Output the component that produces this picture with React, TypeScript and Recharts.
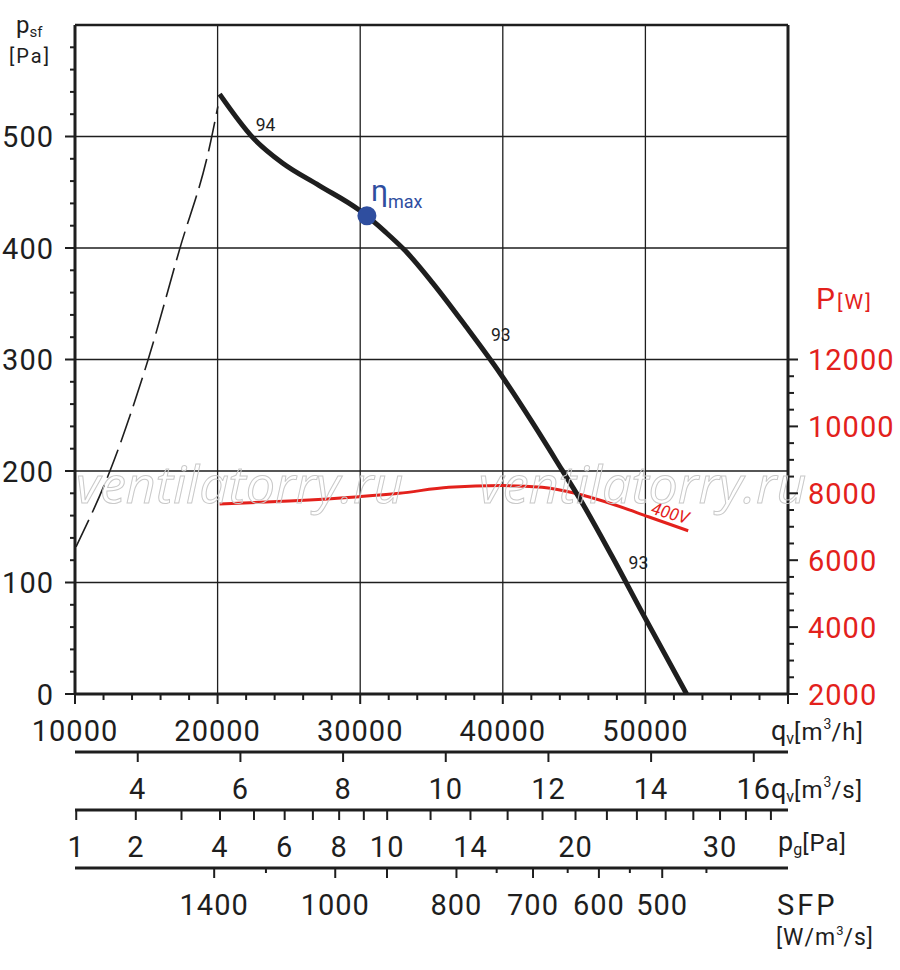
import { CartesianGrid, ComposedChart, Line, ReferenceDot, ReferenceLine, XAxis, YAxis } from 'recharts'

const FONT = 'Roboto, "DejaVu Sans", sans-serif'
const INK = '#1e1e1e'
const RED = '#e3211c'
const BLUE = '#2f4e9f'

// fan curve, p_sf [Pa] over q_v [m3/h]
const pressureCurve = [
  { q: 20140, p: 538 },
  { q: 22470, p: 499 },
  { q: 24570, p: 476 },
  { q: 27130, p: 456 },
  { q: 29930, p: 434 },
  { q: 31800, p: 414 },
  { q: 33200, p: 397 },
  { q: 35060, p: 369 },
  { q: 37390, p: 330 },
  { q: 39840, p: 287 },
  { q: 42050, p: 244 },
  { q: 44150, p: 201 },
  { q: 45310, p: 177 },
  { q: 47640, p: 124 },
  { q: 49860, p: 71 },
  { q: 52890, p: 0 },
]

// dashed system curve on the left
const systemCurve = [
  { q: 10070, p: 132 },
  { q: 12450, p: 200 },
  { q: 15130, p: 300 },
  { q: 17340, p: 399 },
  { q: 19440, p: 491 },
  { q: 20020, p: 527 },
]

// input power, P [W]
const powerCurve = [
  { q: 20140, w: 7680 },
  { q: 25030, w: 7770 },
  { q: 29930, w: 7900 },
  { q: 32730, w: 8000 },
  { q: 36220, w: 8180 },
  { q: 39950, w: 8230 },
  { q: 42750, w: 8180 },
  { q: 45080, w: 8000 },
  { q: 47880, w: 7650 },
  { q: 50210, w: 7300 },
  { q: 53000, w: 6880 },
]

const etaMax = { q: 30470, p: 429 }
const efficiencyLabels = [
  { q: 23360, p: 511, text: '94' },
  { q: 39860, p: 322, text: '93' },
  { q: 49510, p: 118, text: '93' },
]
const voltageLabel = { q: 51750, w: 7410, text: '400V' }
const watermarks = [
  { q: 10070, p: 171 },
  { q: 38320, p: 171 },
]

const flowTicks = [
  10000, 12000, 14000, 16000, 18000, 20000, 22000, 24000, 26000, 28000, 30000, 32000, 34000,
  36000, 38000, 40000, 42000, 44000, 46000, 48000, 50000, 52000, 54000, 56000, 58000, 60000,
]
const flowLabels = [10000, 20000, 30000, 40000, 50000]
const flowSecTicks = [4, 6, 8, 10, 12, 14, 16]
const pgTicks = [1, 2, 3, 4, 5, 6, 7, 8, 9, 10, 12, 14, 16, 18, 20, 22, 24, 26, 28, 30, 32, 34]
const pgLabels = [1, 2, 4, 6, 8, 10, 14, 20, 30]
// SFP scale: flow position [m3/h] of each SFP tick
const sfpFlow = [19760, 23390, 28250, 31880, 36750, 39570, 42120, 44550, 46740, 48910, 51180, 54280]
const sfpValue = [1400, 1200, 1000, 900, 800, 750, 700, 650, 600, 550, 500, 450]
const sfpLabels = [1400, 1000, 800, 700, 600, 500]
const sfpLong = [1400, 1000, 900, 800, 700, 600, 500]

const psfTicks = [
  0, 20, 40, 60, 80, 100, 120, 140, 160, 180, 200, 220, 240, 260, 280, 300, 320, 340, 360, 380,
  400, 420, 440, 460, 480, 500, 520, 540, 560, 580,
]
const psfLabels = [0, 100, 200, 300, 400, 500]
const powerTicks = [
  2000, 2500, 3000, 3500, 4000, 4500, 5000, 5500, 6000, 6500, 7000, 7500, 8000, 8500, 9000, 9500,
  10000, 10500, 11000, 11500, 12000,
]
const powerLabels = [2000, 4000, 6000, 8000, 10000, 12000]

const labelStyle = { fontFamily: FONT, fontSize: 29, letterSpacing: 1 }

function bottomTick(
  isLabel: (v: number) => boolean,
  isLong: (v: number) => boolean,
  text: (v: number) => string,
  short = 6,
) {
  return (props: any) => {
    const { x, y, payload } = props
    const v = payload.value
    return (
      <g>
        <line x1={x} x2={x} y1={y} y2={y + (isLong(v) ? 10 : short)} stroke={INK} strokeWidth={2} />
        {isLabel(v) && (
          <text x={x} y={y + 47} textAnchor="middle" fill={INK} style={labelStyle}>
            {text(v)}
          </text>
        )}
      </g>
    )
  }
}

const flowTick = bottomTick(
  (v) => flowLabels.includes(v),
  (v) => v % 10000 === 0,
  (v) => String(v),
)
const flowSecTick = bottomTick(
  () => true,
  () => true,
  (v) => String(v),
)
const pgTick = bottomTick(
  (v) => pgLabels.includes(v),
  () => true,
  (v) => String(v),
)
const sfpOf = (q: number) => sfpValue[sfpFlow.indexOf(q)]
const sfpTick = bottomTick(
  (v) => sfpLabels.includes(sfpOf(v)),
  (v) => sfpLong.includes(sfpOf(v)),
  (v) => String(sfpOf(v)),
  5,
)

const psfTick = (props: any) => {
  const { x, y, payload } = props
  const v = payload.value
  const major = v % 100 === 0
  return (
    <g>
      <line x1={x - (major ? 10 : 5)} x2={x} y1={y} y2={y} stroke={INK} strokeWidth={2} />
      {psfLabels.includes(v) && (
        <text x={x - 21} y={y + 10.5} textAnchor="end" fill={INK} style={labelStyle}>
          {v}
        </text>
      )}
    </g>
  )
}

const powerTick = (props: any) => {
  const { x, y, payload } = props
  const v = payload.value
  const major = powerLabels.includes(v)
  return (
    <g>
      <line x1={x} x2={x + (major ? 10 : 6)} y1={y} y2={y} stroke={INK} strokeWidth={2} />
      {major && (
        <text x={x + 20} y={y + 10.5} textAnchor="start" fill={RED} style={labelStyle}>
          {v}
        </text>
      )}
    </g>
  )
}

// axis ids are stacked in sorted order, so x1..x4 go top to bottom
export default function App() {
  return (
    <div style={{ position: 'absolute', left: 0, top: 0, width: 900, height: 970, background: '#fff' }}>
      <ComposedChart width={900} height={970} margin={{ top: 25, right: 0, bottom: 10, left: 0 }}>
        <CartesianGrid
          xAxisId="x1"
          yAxisId="p"
          horizontalValues={[100, 200, 300, 400, 500]}
          verticalValues={[20000, 30000, 40000, 50000]}
          stroke={INK}
          strokeWidth={1.3}
        />
        <XAxis
          xAxisId="x1"
          dataKey="q"
          type="number"
          domain={[10000, 60000]}
          allowDataOverflow
          ticks={flowTicks}
          interval={0}
          tick={flowTick}
          tickLine={false}
          tickSize={0}
          tickMargin={0}
          height={58}
          axisLine={{ stroke: INK, strokeWidth: 3 }}
        />
        <XAxis
          xAxisId="x2"
          dataKey="qs"
          type="number"
          domain={[10000 / 3600, 60000 / 3600]}
          allowDataOverflow
          ticks={flowSecTicks}
          interval={0}
          tick={flowSecTick}
          tickLine={false}
          tickSize={0}
          tickMargin={0}
          height={58}
          axisLine={{ stroke: INK, strokeWidth: 3 }}
        />
        <XAxis
          xAxisId="x3"
          dataKey="pg"
          type="number"
          scale="sqrt"
          domain={[0.983, 35.4]}
          allowDataOverflow
          ticks={pgTicks}
          interval={0}
          tick={pgTick}
          tickLine={false}
          tickSize={0}
          tickMargin={0}
          height={58}
          axisLine={{ stroke: INK, strokeWidth: 3 }}
        />
        <XAxis
          xAxisId="x4"
          dataKey="q"
          type="number"
          domain={[10000, 60000]}
          allowDataOverflow
          ticks={sfpFlow}
          interval={0}
          tick={sfpTick}
          tickLine={false}
          tickSize={0}
          tickMargin={0}
          height={92}
          axisLine={{ stroke: INK, strokeWidth: 3 }}
        />
        <YAxis
          yAxisId="p"
          dataKey="p"
          type="number"
          domain={[0, 600]}
          allowDataOverflow
          ticks={psfTicks}
          interval={0}
          tick={psfTick}
          tickLine={false}
          tickSize={0}
          tickMargin={0}
          width={75}
          axisLine={{ stroke: INK, strokeWidth: 3 }}
        />
        <YAxis
          yAxisId="w"
          orientation="right"
          dataKey="w"
          type="number"
          domain={[2000, 22000]}
          allowDataOverflow
          ticks={powerTicks}
          interval={0}
          tick={powerTick}
          tickLine={false}
          tickSize={0}
          tickMargin={0}
          width={112}
          axisLine={{ stroke: INK, strokeWidth: 3 }}
        />
        <ReferenceLine xAxisId="x1" yAxisId="p" y={600} stroke={INK} strokeWidth={2.5} />
        {watermarks.map((m, i) => (
          <ReferenceDot
            key={i}
            xAxisId="x1"
            yAxisId="p"
            x={m.q}
            y={m.p}
            r={1}
            shape={(s: any) => (
              <text
                x={s.cx}
                y={s.cy}
                fill="none"
                stroke="#c9c9c9"
                strokeWidth={1}
                style={{ fontFamily: '"Open Sans", sans-serif', fontSize: 52, fontStyle: 'italic' }}
              >
                ventilatorry.ru
              </text>
            )}
          />
        ))}
        <Line
          xAxisId="x1"
          yAxisId="p"
          data={systemCurve}
          dataKey="p"
          type="monotone"
          stroke={INK}
          strokeWidth={1.6}
          strokeDasharray="30 8"
          dot={false}
          isAnimationActive={false}
        />
        <Line
          xAxisId="x1"
          yAxisId="w"
          data={powerCurve}
          dataKey="w"
          type="monotone"
          stroke={RED}
          strokeWidth={3}
          dot={false}
          isAnimationActive={false}
        />
        <Line
          xAxisId="x1"
          yAxisId="p"
          data={pressureCurve}
          dataKey="p"
          type="monotone"
          stroke={INK}
          strokeWidth={5}
          dot={false}
          isAnimationActive={false}
        />
        <ReferenceDot
          xAxisId="x1"
          yAxisId="p"
          x={etaMax.q}
          y={etaMax.p}
          r={9.5}
          shape={(s: any) => (
            <g>
              <circle cx={s.cx} cy={s.cy} r={9.5} fill={BLUE} />
              <text x={s.cx + 4} y={s.cy - 15} fill={BLUE} style={{ fontFamily: FONT, fontSize: 30 }}>
                η
                <tspan dy={7.5} style={{ fontSize: 18 }}>
                  max
                </tspan>
              </text>
            </g>
          )}
        />
        {efficiencyLabels.map((e, i) => (
          <ReferenceDot
            key={i}
            xAxisId="x1"
            yAxisId="p"
            x={e.q}
            y={e.p}
            r={1}
            shape={(s: any) => (
              <text x={s.cx} y={s.cy + 6.3} textAnchor="middle" fill={INK} style={{ fontFamily: FONT, fontSize: 17.5 }}>
                {e.text}
              </text>
            )}
          />
        ))}
        <ReferenceDot
          xAxisId="x1"
          yAxisId="w"
          x={voltageLabel.q}
          y={voltageLabel.w}
          r={1}
          shape={(s: any) => (
            <text
              x={s.cx}
              y={s.cy + 6}
              transform={`rotate(16 ${s.cx} ${s.cy})`}
              textAnchor="middle"
              fill={RED}
              style={{ fontFamily: FONT, fontSize: 17, fontStyle: 'italic' }}
            >
              {voltageLabel.text}
            </text>
          )}
        />
      </ComposedChart>
      <svg
        width={900}
        height={970}
        style={{ position: 'absolute', left: 0, top: 0, pointerEvents: 'none', fontFamily: FONT }}
      >
        <text x={16} y={33} fontSize={24} fill={INK}>
          p<tspan fontSize={15} dy={4}>sf</tspan>
        </text>
        <text x={9} y={63} fontSize={20} letterSpacing={2} fill={INK}>
          [Pa]
        </text>
        <text x={816} y={309} fontSize={30} fill={RED}>
          P
          <tspan fontSize={21} letterSpacing={2} dx={2}>
            [W]
          </tspan>
        </text>
        <text x={771} y={740} fontSize={27} fill={INK}>
          q<tspan fontSize={16} dy={4}>v</tspan>
          <tspan fontSize={24} dy={-4} letterSpacing={1}>[m</tspan>
          <tspan fontSize={14} dy={-11}>3</tspan>
          <tspan fontSize={24} dy={11} letterSpacing={1}>/h]</tspan>
        </text>
        <text x={771} y={798} fontSize={27} fill={INK}>
          q<tspan fontSize={16} dy={4}>v</tspan>
          <tspan fontSize={24} dy={-4} letterSpacing={1}>[m</tspan>
          <tspan fontSize={14} dy={-11}>3</tspan>
          <tspan fontSize={24} dy={11} letterSpacing={1}>/s]</tspan>
        </text>
        <text x={778} y={851} fontSize={27} fill={INK}>
          p<tspan fontSize={16} dy={4}>g</tspan>
          <tspan fontSize={24} dy={-4} letterSpacing={1}>[Pa]</tspan>
        </text>
        <text x={777} y={915} fontSize={29} letterSpacing={3} fill={INK}>
          SFP
        </text>
        <text x={776} y={945} fontSize={23} fill={INK}>
          <tspan letterSpacing={1}>[W/m</tspan>
          <tspan fontSize={13} dy={-10}>3</tspan>
          <tspan dy={10} letterSpacing={1}>/s]</tspan>
        </text>
      </svg>
    </div>
  )
}
